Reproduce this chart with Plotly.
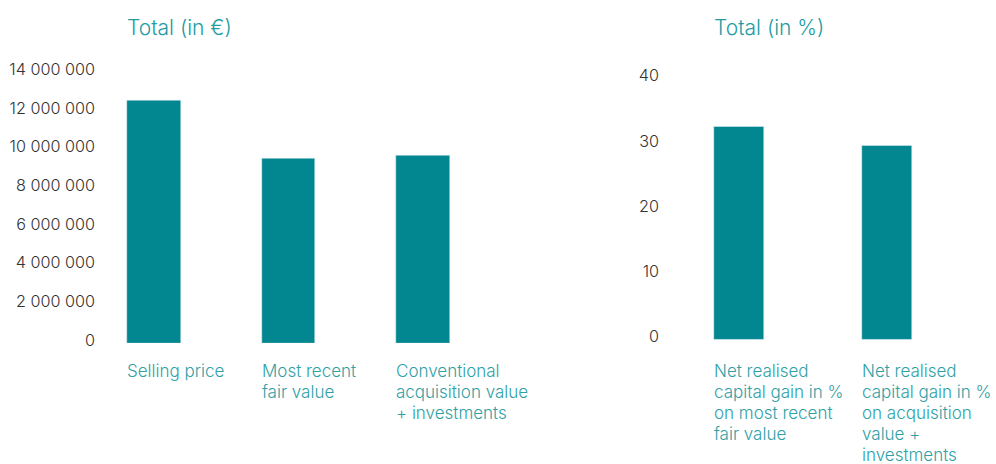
import plotly.graph_objects as go

# Left panel: amounts in euro
eur_categories = ["Selling price", "Most recent fair value", "Conventional acquisition value + investments"]
eur_labels = [["Selling price"], ["Most recent", "fair value"], ["Conventional", "acquisition value", "+ investments"]]
eur_values = [12_550_000, 9_560_000, 9_720_000]
eur_ticks = [0, 2_000_000, 4_000_000, 6_000_000, 8_000_000, 10_000_000, 12_000_000, 14_000_000]
eur_ticktext = ["0", "2 000 000", "4 000 000", "6 000 000", "8 000 000", "10 000 000", "12 000 000", "14 000 000"]

# Right panel: percentages
pct_categories = ["Gain on fair value", "Gain on acquisition value"]
pct_labels = [["Net realised", "capital gain in %", "on most recent", "fair value"],
              ["Net realised", "capital gain in %", "on acquisition", "value +", "investments"]]
pct_values = [32.6, 29.7]
pct_ticks = [0, 10, 20, 30, 40]

BAR = "#028791"
LABEL = "#2fa1a6"
TITLE = "#229ca2"
TICK = "#333333"
FONT = "Inter"
WEIGHT = 300
LINE_STEP = 21.2

fig = go.Figure()
fig.add_trace(go.Bar(x=eur_categories, y=eur_values, marker_color=BAR, width=0.4,
                     xaxis="x", yaxis="y", showlegend=False, hoverinfo="skip"))
fig.add_trace(go.Bar(x=pct_categories, y=pct_values, marker_color=BAR, width=0.338,
                     xaxis="x2", yaxis="y2", showlegend=False, hoverinfo="skip"))

axis_common = dict(showgrid=False, zeroline=False, showline=False, ticks="", automargin=False)
tick_font = dict(size=16.2, color=TICK, family=FONT, weight=WEIGHT)

fig.update_layout(
    width=996, height=464,
    margin=dict(l=0, r=0, t=0, b=0),
    paper_bgcolor="white", plot_bgcolor="white",
    font=dict(family=FONT, color=TICK, size=17),
    bargap=0,
    xaxis=dict(domain=[101 / 996, 490.5 / 996], range=[-0.3926, 2.5],
               showticklabels=False, **axis_common),
    yaxis=dict(domain=[(464 - 343) / 464, (464 - 72.5) / 464], range=[0, 14_000_000],
               tickvals=eur_ticks, ticktext=eur_ticktext, ticklabelshift=-3, ticklabelstandoff=5,
               tickfont=tick_font, anchor="x", **axis_common),
    xaxis2=dict(domain=[665 / 996, 961 / 996], range=[-0.5, 1.5],
                showticklabels=False, anchor="y2", **axis_common),
    yaxis2=dict(domain=[(464 - 339.7) / 464, (464 - 78.7) / 464], range=[0, 40],
                tickvals=pct_ticks, ticklabelshift=-3, ticklabelstandoff=5,
                tickfont=tick_font, anchor="x2", **axis_common),
)

# Category labels, one line per annotation, left-aligned with each bar's left edge
def add_labels(cats, labels, xref, yref, xshift, first_offset):
    for cat, lines in zip(cats, labels):
        for i, line in enumerate(lines):
            fig.add_annotation(x=cat, xref=xref, y=0, yref=yref, text=line, showarrow=False,
                               xanchor="left", yanchor="middle", align="left",
                               xshift=xshift, yshift=-first_offset - i * LINE_STEP,
                               font=dict(size=17, color=LABEL, family=FONT, weight=WEIGHT))

add_labels(eur_categories, eur_labels, "x", "y", -29, 28)
add_labels(pct_categories, pct_labels, "x2", "y2", -27, 31)

# Panel titles
fig.add_annotation(x=eur_categories[0], xref="x", y=1, yref="paper", yshift=-13,
                   text="Total (in €)", showarrow=False, xanchor="left", yanchor="top",
                   xshift=-29, font=dict(size=21, color=TITLE, family=FONT, weight=WEIGHT))
fig.add_annotation(x=pct_categories[0], xref="x2", y=1, yref="paper", yshift=-13,
                   text="Total (in %)", showarrow=False, xanchor="left", yanchor="top",
                   xshift=-27, font=dict(size=21, color=TITLE, family=FONT, weight=WEIGHT))

fig.write_html("out.html")
